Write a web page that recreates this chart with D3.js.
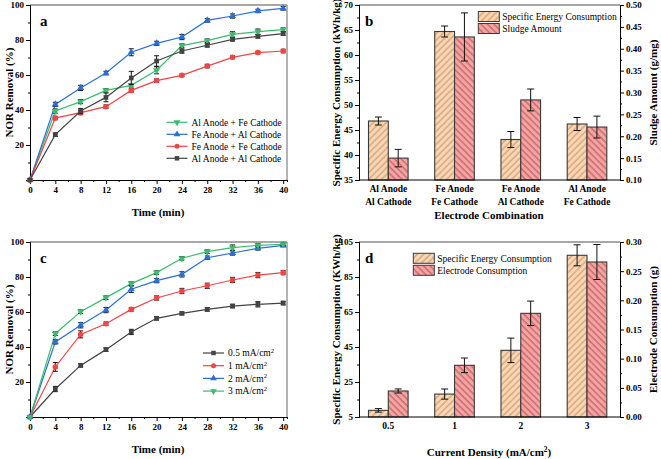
<!DOCTYPE html>
<html><head><meta charset="utf-8">
<script src="https://cdn.jsdelivr.net/npm/d3@7"></script>
<style>
body{margin:0;background:#fff;}
svg{display:block;}
svg text{font-family:"Liberation Serif","Times New Roman",Times,serif;}
</style></head>
<body><svg id="c" width="661" height="459"></svg>
<script>
// ---------- DATA ----------
const timeMin = [0,4,8,12,16,20,24,28,32,36,40];
const timeTicks = [0,4,8,12,16,20,24,28,32,36,40];

// Panel a
const aNames = ["Al Anode + Fe Cathode","Fe Anode + Al Cathode","Fe Anode + Fe Cathode","Al Anode + Al Cathode"];
const aAlFe = [0,39.4,44.8,51.2,54.1,62.7,76.8,79.6,83.2,84.8,85.9];
const aFeAl = [0,43.2,52.6,61.1,73.0,78.1,81.7,91.2,93.7,96.6,98.1];
const aFeFe = [0,35.4,38.5,41.9,51.2,56.8,59.8,65.1,70.1,72.8,73.7];
const aAlAl = [0,25.9,39.4,47.2,58.3,68.0,73.7,77.0,80.4,82.1,83.6];
const aAlFeErr = [0,1.2,1.2,1.0,1.0,2.0,1.0,1.0,1.5,1.5,1.0];
const aFeAlErr = [0,1.2,1.5,1.0,2.0,1.2,1.5,1.0,1.2,1.0,1.0];
const aFeFeErr = [0,1.0,1.2,1.0,1.0,1.0,0.8,1.0,0.8,0.8,1.0];
const aAlAlErr = [0,1.0,1.5,2.5,3.8,3.0,1.2,1.0,1.0,1.0,1.0];

// Panel b
const bCats = [["Al Anode","Al Cathode"],["Fe Anode","Fe Cathode"],["Fe Anode","Al Cathode"],["Al Anode","Fe Cathode"]];
const bSEC = [46.8,64.7,43.1,46.2];
const bSECErr = [0.8,1.1,1.6,1.3];
const bSludge = [0.150,0.427,0.283,0.221];
const bSludgeErr = [0.020,0.055,0.025,0.025];
const bLeftTicks = [35,40,45,50,55,60,65,70];
const bRightTicks = [0.10,0.15,0.20,0.25,0.30,0.35,0.40,0.45,0.50];

// Panel c
const cNames = ["0.5 mA/cm","1 mA/cm","2 mA/cm","3 mA/cm"];
const c05 = [0,16.0,29.5,38.5,48.6,56.4,59.2,61.5,63.4,64.4,65.1];
const c1  = [0,28.6,47.2,53.3,61.5,68.0,72.0,75.0,78.3,81.1,82.5];
const c2  = [0,42.9,52.4,61.1,73.0,77.9,81.5,91.0,93.7,96.4,98.1];
const c3  = [0,47.6,60.2,68.2,76.2,82.5,90.7,94.5,96.8,98.1,98.7];
const c05Err = [0,1.5,1.0,1.0,1.5,1.0,0.8,1.0,1.0,1.5,1.0];
const c1Err  = [0,2.5,2.0,1.0,1.0,1.2,1.5,1.5,1.5,1.5,1.2];
const c2Err  = [0,1.2,1.5,1.5,1.8,1.2,1.5,1.0,1.2,1.0,0.8];
const c3Err  = [0,1.0,1.0,1.0,1.0,1.0,1.0,1.0,1.5,1.0,0.8];
const removalTicks = [0,20,40,60,80,100];

// Panel d
const dCats = ["0.5","1","2","3"];
const dSEC = [8.8,18.1,43.1,97.4];
const dSECErr = [1.0,2.9,7.0,6.0];
const dEC = [0.0446,0.0886,0.1777,0.2657];
const dECErr = [0.0035,0.0125,0.021,0.030];
const dLeftTicks = [5,25,45,65,85,105];
const dRightTicks = [0.00,0.05,0.10,0.15,0.20,0.25,0.30];

// ---------- STYLE ----------
const FONT = "'Liberation Serif','Times New Roman',Times,serif";
const GREEN="#3dbb6e", BLUE="#2a6fd6", RED="#f04545", BLACK="#444444";
const PEACH="#fcd6b0", PEACH_H="#b58a66", PINK="#f5a3a3", PINK_H="#a84848";

const svg = d3.select("#c").attr("font-family",FONT);
const defs = svg.append("defs");
function hatch(id, bg, fg, ang){
  const p = defs.append("pattern").attr("id",id).attr("patternUnits","userSpaceOnUse")
    .attr("width",4.6).attr("height",4.6).attr("patternTransform",`rotate(${ang})`);
  p.append("rect").attr("width",4.6).attr("height",4.6).attr("fill",bg);
  p.append("line").attr("x1",1).attr("x2",1).attr("y1",0).attr("y2",4.6).attr("stroke",fg).attr("stroke-width",0.9);
}
hatch("hPeach",PEACH,PEACH_H,45);
hatch("hPink",PINK,PINK_H,-45);

function minorVals(ticks){const o=[];for(let i=0;i<ticks.length-1;i++)o.push((ticks[i]+ticks[i+1])/2);return o;}

function styleAxis(g){
  g.attr("font-family",FONT);
  g.selectAll("path").attr("stroke","#000").attr("stroke-width",1);
  g.selectAll("line").attr("stroke","#000");
  g.selectAll("text").attr("font-family",FONT).attr("font-weight","bold").attr("font-size",9).attr("fill","#000");
}
function frame(L,R,T,B){
  svg.append("line").attr("x1",L).attr("x2",R).attr("y1",T).attr("y2",T).attr("stroke","#8a8a8a").attr("stroke-width",1.3);
}
function boldText(x,y,txt,size,rot,anchor){
  const t=svg.append("text").attr("x",x).attr("y",y).attr("font-family",FONT).attr("font-weight","bold").attr("font-size",size)
    .attr("text-anchor",anchor||"middle").attr("fill","#000").text(txt);
  if(rot) t.attr("transform",`rotate(${rot},${x},${y})`);
  return t;
}

// ---------- LINE PANELS ----------
function linePanel(T,B,letter,series,legendX,legendY,legendStep,sup){
  const L=30,R=287;
  const x=d3.scaleLinear().domain([0,40.6]).range([L,R]);
  const y=d3.scaleLinear().domain([0,100]).range([B,T]);
  frame(L,R,T,B);
  svg.append("line").attr("x1",R).attr("x2",R).attr("y1",T).attr("y2",B).attr("stroke","#8a8a8a").attr("stroke-width",1.3);
  svg.append("g").attr("transform",`translate(0,${B})`).call(d3.axisBottom(x).tickValues(minorVals(timeTicks)).tickSize(2).tickFormat("")).call(styleAxis);
  svg.append("g").attr("transform",`translate(${L},0)`).call(d3.axisLeft(y).tickValues(minorVals(removalTicks)).tickSize(2).tickFormat("")).call(styleAxis);
  svg.append("g").attr("transform",`translate(0,${B})`).call(d3.axisBottom(x).tickValues(timeTicks).tickSize(4).tickSizeOuter(0).tickPadding(3)).call(styleAxis);
  svg.append("g").attr("transform",`translate(${L},0)`).call(d3.axisLeft(y).tickValues(removalTicks).tickSize(4).tickSizeOuter(0).tickPadding(2).tickFormat(d=>d===0?"":d)).call(styleAxis);
  boldText(158,B+36,"Time (min)",11);
  boldText(13,(T+B)/2,"NOR Removal (%)",11,-90);
  boldText(40,T+21,letter,15,0,"start");
  const line=d3.line().x((d,i)=>x(timeMin[i])).y(d=>y(d));
  series.forEach(s=>{
    svg.append("path").attr("d",line(s.v)).attr("fill","none").attr("stroke",s.c).attr("stroke-width",1.2);
  });
  series.forEach(s=>{
    const g=svg.append("g");
    s.v.forEach((v,i)=>{
      const e=s.e[i]; if(!e) return;
      const cx=x(timeMin[i]);
      g.append("line").attr("x1",cx).attr("x2",cx).attr("y1",y(v-e)).attr("y2",y(v+e)).attr("stroke","#111").attr("stroke-width",1);
      [v-e,v+e].forEach(w=>g.append("line").attr("x1",cx-2.5).attr("x2",cx+2.5).attr("y1",y(w)).attr("y2",y(w)).attr("stroke","#111").attr("stroke-width",1));
    });
    s.v.forEach((v,i)=>{
      g.append("path").attr("d",d3.symbol().type(s.sym).size(s.sym===d3.symbolCircle?24:22)())
        .attr("transform",`translate(${x(timeMin[i])},${y(v)}) rotate(${s.rot||0})`).attr("fill",s.c);
    });
  });
  series.forEach((s,k)=>{
    const ly=legendY+legendStep*k;
    svg.append("line").attr("x1",legendX).attr("x2",legendX+21).attr("y1",ly).attr("y2",ly).attr("stroke",s.c).attr("stroke-width",1.2);
    svg.append("path").attr("d",d3.symbol().type(s.sym).size(20)()).attr("transform",`translate(${legendX+10.5},${ly}) rotate(${s.rot||0})`).attr("fill",s.c);
    const t=svg.append("text").attr("x",legendX+25).attr("y",ly+3.3).attr("font-family",FONT).attr("font-size",9.5).attr("fill","#000").text(s.n);
    if(sup) t.append("tspan").attr("dy",-3.5).attr("font-size",6.5).text("2");
  });
}

// ---------- BAR PANELS ----------
function barPanel(T,B,letter,cats,leftDom,leftTicks,rightDom,rightTicks,v1,e1,v2,e2,names,leftTitle,rightTitle,xTitle,legX,legY,rightFmt){
  const L=359,R=620,bw=19.8;
  const x=d3.scalePoint().domain(d3.range(cats.length)).range([388.3,587]);
  const yl=d3.scaleLinear().domain(leftDom).range([B,T]);
  const yr=d3.scaleLinear().domain(rightDom).range([B,T]);
  frame(L,R,T,B);
  v1.forEach((v,i)=>{
    svg.append("rect").attr("x",x(i)-bw).attr("y",yl(v)).attr("width",bw).attr("height",B-yl(v)).attr("fill","url(#hPeach)").attr("stroke","#3a3a3a").attr("stroke-width",1.1);
  });
  v2.forEach((v,i)=>{
    svg.append("rect").attr("x",x(i)).attr("y",yr(v)).attr("width",bw).attr("height",B-yr(v)).attr("fill","url(#hPink)").attr("stroke","#3a3a3a").attr("stroke-width",1.1);
  });
  function eb(cx,ylo,yhi){
    svg.append("line").attr("x1",cx).attr("x2",cx).attr("y1",ylo).attr("y2",yhi).attr("stroke","#111").attr("stroke-width",1);
    [ylo,yhi].forEach(w=>svg.append("line").attr("x1",cx-3.5).attr("x2",cx+3.5).attr("y1",w).attr("y2",w).attr("stroke","#111").attr("stroke-width",1));
  }
  v1.forEach((v,i)=>eb(x(i)-bw/2,yl(v-e1[i]),yl(v+e1[i])));
  v2.forEach((v,i)=>eb(x(i)+bw/2,yr(v-e2[i]),yr(v+e2[i])));
  svg.append("g").attr("transform",`translate(${L},0)`).call(d3.axisLeft(yl).tickValues(minorVals(leftTicks)).tickSize(2).tickFormat("")).call(styleAxis);
  svg.append("g").attr("transform",`translate(${L},0)`).call(d3.axisLeft(yl).tickValues(leftTicks).tickSize(4).tickSizeOuter(0).tickPadding(2)).call(styleAxis);
  svg.append("g").attr("transform",`translate(${R},0)`).call(d3.axisRight(yr).tickValues(minorVals(rightTicks)).tickSize(2).tickFormat("")).call(styleAxis);
  svg.append("g").attr("transform",`translate(${R},0)`).call(d3.axisRight(yr).tickValues(rightTicks).tickSize(4).tickSizeOuter(0).tickPadding(2).tickFormat(d3.format(rightFmt))).call(styleAxis);
  svg.append("line").attr("x1",L).attr("x2",R).attr("y1",B).attr("y2",B).attr("stroke","#000");
  cats.forEach((c,i)=>{
    const lines=Array.isArray(c)?c:[c];
    lines.forEach((s,k)=>boldText(x(i),B+12+k*12.5,s,9.5));
  });
  boldText(340,(T+B)/2,leftTitle,11,-90);
  boldText(657,(T+B)/2,rightTitle,11,-90);
  const xt=boldText(489,B+(Array.isArray(cats[0])?39:38.5),xTitle.main,11);
  if(xTitle.sup){xt.append("tspan").attr("dy",-4).attr("font-size",7.5).text(xTitle.sup);xt.append("tspan").attr("dy",4).attr("font-size",11).text(xTitle.tail);}
  boldText(365,T+21,letter,15,0,"start");
  [["url(#hPeach)",names[0]],["url(#hPink)",names[1]]].forEach((d,k)=>{
    const ly=legY+k*12;
    svg.append("rect").attr("x",legX).attr("y",ly-5).attr("width",21).attr("height",10).attr("fill",d[0]).attr("stroke","#3a3a3a").attr("stroke-width",1);
    svg.append("text").attr("x",legX+24).attr("y",ly+3.3).attr("font-family",FONT).attr("font-size",9.5).attr("fill","#000").text(d[1]);
  });
}

// ---------- DRAW ----------
linePanel(5,180,"a",[
  {n:aNames[0],v:aAlFe,e:aAlFeErr,c:GREEN,sym:d3.symbolTriangle,rot:180},
  {n:aNames[1],v:aFeAl,e:aFeAlErr,c:BLUE,sym:d3.symbolTriangle},
  {n:aNames[2],v:aFeFe,e:aFeFeErr,c:RED,sym:d3.symbolCircle},
  {n:aNames[3],v:aAlAl,e:aAlAlErr,c:BLACK,sym:d3.symbolSquare}
],166.5,122.3,12,false);

linePanel(242,417,"c",[
  {n:cNames[0],v:c05,e:c05Err,c:BLACK,sym:d3.symbolSquare},
  {n:cNames[1],v:c1,e:c1Err,c:RED,sym:d3.symbolCircle},
  {n:cNames[2],v:c2,e:c2Err,c:BLUE,sym:d3.symbolTriangle},
  {n:cNames[3],v:c3,e:c3Err,c:GREEN,sym:d3.symbolTriangle,rot:180}
],203,353,12.7,true);

barPanel(5,180,"b",bCats,[35,70],bLeftTicks,[0.10,0.50],bRightTicks,bSEC,bSECErr,bSludge,bSludgeErr,
  ["Specific Energy Consumption","Sludge Amount"],"Specific Energy Consumption (kWh/kg)","Sludge Amount (g/mg)",
  {main:"Electrode Combination"},478.3,16.5,".2f");

barPanel(242,417,"d",dCats,[5,105],dLeftTicks,[0,0.30],dRightTicks,dSEC,dSECErr,dEC,dECErr,
  ["Specific Energy Consumption","Electrode Consumption"],"Specific Energy Consumption (KWh/kg)","Electrode Consumption (g)",
  {main:"Current Density (mA/cm",sup:"2",tail:")"},413.3,258.3,".2f");
</script></body></html>
